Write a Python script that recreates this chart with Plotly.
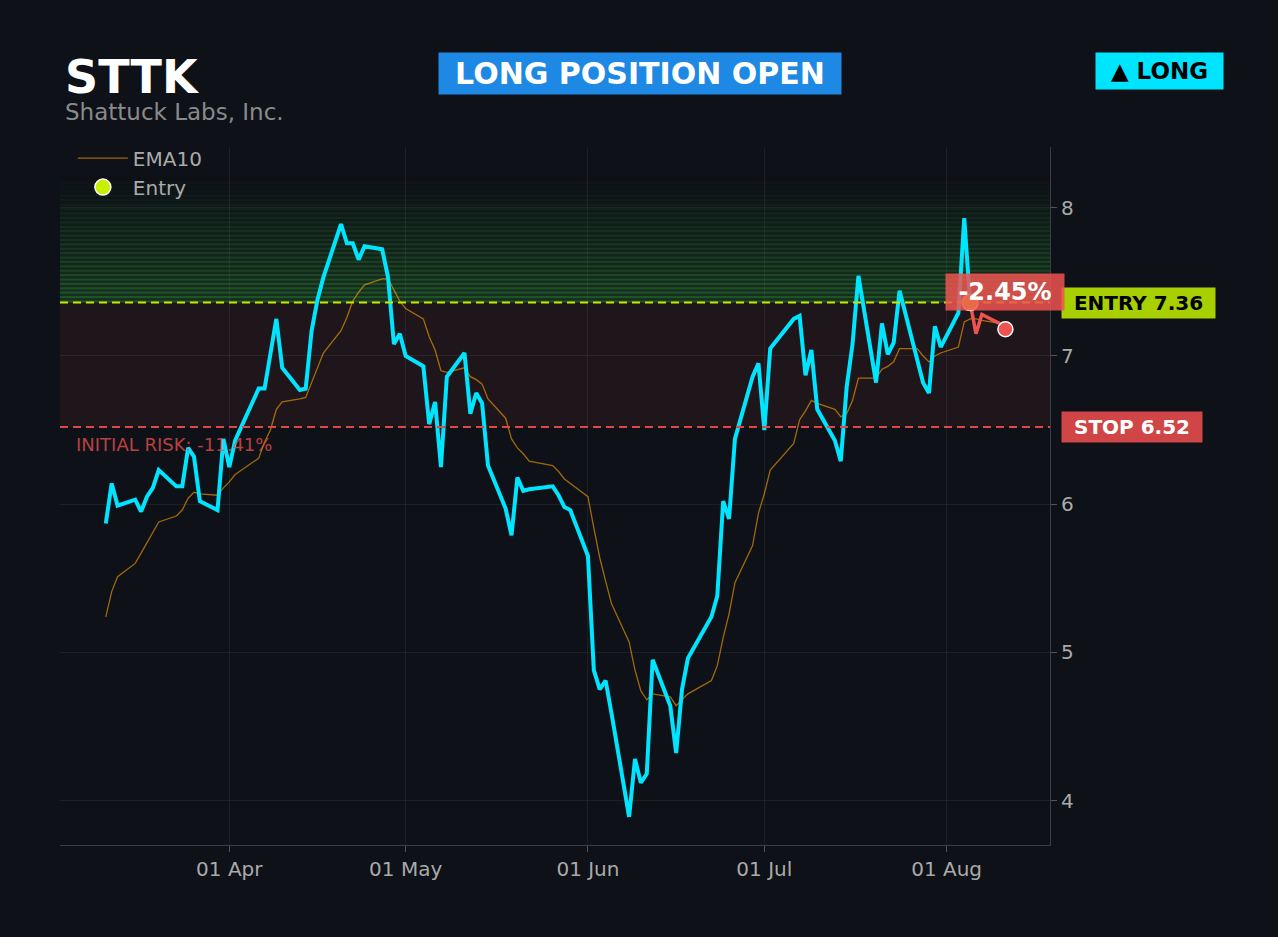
import pandas as pd
import plotly.graph_objects as go

# trade setup
ticker = "STTK"
company = "Shattuck Labs, Inc."
entry_date = "2026-08-05"
entry_price = 7.36
stop_price = 6.52

# trading days shown (US market holidays removed)
holidays = ["2026-04-03", "2026-05-25", "2026-06-19", "2026-07-03"]
dates = pd.bdate_range("2026-03-11", "2026-08-11")
dates = dates[~dates.isin(pd.to_datetime(holidays))]

# daily closes
close = [
    5.87, 6.14, 5.99, 6.03, 5.95, 6.05, 6.11, 6.23, 6.12, 6.12, 6.38, 6.32, 6.02, 5.96, 6.44,
    6.25, 6.43, 6.78, 6.78, 7.03, 7.25, 6.92, 6.77, 6.78, 7.17, 7.38, 7.53, 7.89, 7.76, 7.76,
    7.65, 7.74, 7.72, 7.53, 7.08, 7.15,
    7.00, 6.93, 6.54, 6.69, 6.25, 6.86, 7.02, 6.61, 6.75, 6.68, 6.26, 5.97, 5.79, 6.18, 6.09,
    6.10, 6.12, 6.06, 5.98, 5.96,
    5.65, 4.88, 4.75, 4.81, 4.59, 3.89, 4.28, 4.12, 4.18, 4.95, 4.64, 4.32, 4.75, 4.96, 5.24,
    5.38, 6.02, 5.90, 6.44, 6.86, 6.95,
    6.50, 7.05, 7.25, 7.27, 6.87, 7.04, 6.64, 6.43, 6.29, 6.79, 7.08, 7.54, 6.82, 7.22, 7.01,
    7.09, 7.44, 6.98, 6.82, 6.75, 7.20, 7.06,
    7.29, 7.93, 7.36, 7.15, 7.28, 7.22, 7.18,
]

# EMA10 as drawn
ema10 = [
    5.24, 5.41, 5.51, 5.60, 5.67, 5.74, 5.81, 5.88, 5.92, 5.96, 6.04, 6.08, 6.07, 6.06, 6.11,
    6.15, 6.20, 6.31, 6.42, 6.50, 6.64, 6.69, 6.71, 6.72, 6.82, 6.92, 7.02, 7.17, 7.26, 7.37,
    7.43, 7.48, 7.52, 7.52, 7.44, 7.37,
    7.32, 7.25, 7.13, 7.04, 6.90, 6.89, 6.92, 6.86, 6.84, 6.81, 6.71, 6.58, 6.44, 6.38, 6.34,
    6.29, 6.26, 6.22, 6.17, 6.14,
    6.05, 5.84, 5.64, 5.48, 5.33, 5.07, 4.88, 4.74, 4.68, 4.72, 4.70, 4.64, 4.68, 4.72, 4.81,
    4.91, 5.10, 5.26, 5.47, 5.72, 5.94,
    6.07, 6.23, 6.41, 6.57, 6.63, 6.70, 6.68, 6.64, 6.59, 6.61, 6.70, 6.85, 6.85, 6.91, 6.93,
    6.96, 7.05, 7.05, 7.00, 6.96, 7.00, 7.02,
    7.06, 7.23, 7.25, 7.25, 7.24, 7.22, 7.21,
]

df = pd.DataFrame({"date": dates, "close": close, "ema10": ema10})
i_entry = df.index[df["date"] == pd.Timestamp(entry_date)][0]
before = df.iloc[: i_entry + 1]
after = df.iloc[i_entry:]
last = df.iloc[-1]

pnl = (last["close"] - entry_price) / entry_price * 100
risk = (stop_price - entry_price) / entry_price * 100

BG = "#0e1117"
FONT = "DejaVu Sans"

fig = go.Figure()

fig.add_trace(go.Scatter(
    x=df["date"], y=df["ema10"], mode="lines", name="EMA10",
    line=dict(color="rgba(255,165,0,0.6)", width=1.3),
))
fig.add_trace(go.Scatter(
    x=before["date"], y=before["close"], mode="lines", name="Price",
    line=dict(color="#00e5ff", width=4), showlegend=False,
))
fig.add_trace(go.Scatter(
    x=after["date"], y=after["close"], mode="lines", name="Since entry",
    line=dict(color="#ef5350", width=3.5), showlegend=False,
))
fig.add_trace(go.Scatter(
    x=[entry_date], y=[entry_price], mode="markers", name="Entry",
    marker=dict(color="#c6f000", size=16, line=dict(color="white", width=1.5)),
))
fig.add_trace(go.Scatter(
    x=[last["date"]], y=[last["close"]], mode="markers", name="Last",
    marker=dict(color="#ef5350", size=15, line=dict(color="white", width=1.5)),
    showlegend=False,
))

# green "profit" glow above the entry, striped
shapes = []
n_bands = 29
top = 8.22
step = (top - entry_price) / n_bands
for k in range(n_bands):
    y0 = entry_price + k * step
    a = 0.35 * (1 - k / n_bands) ** 1.1
    shapes.append(dict(type="rect", xref="paper", x0=0, x1=1, y0=y0, y1=y0 + step,
                       fillcolor=f"rgba(70,230,80,{a * 0.4:.3f})", line=dict(width=0), layer="below"))
    shapes.append(dict(type="rect", xref="paper", x0=0, x1=1, y0=y0, y1=y0 + step * 0.5,
                       fillcolor=f"rgba(70,230,80,{a * 0.6:.3f})", line=dict(width=0), layer="below"))
# risk zone
shapes.append(dict(type="rect", xref="paper", x0=0, x1=1, y0=stop_price, y1=entry_price,
                   fillcolor="rgba(239,83,80,0.08)", line=dict(width=0), layer="below"))
shapes.append(dict(type="line", xref="paper", x0=0, x1=1, y0=entry_price, y1=entry_price,
                   line=dict(color="#c8e600", width=2, dash="8px,5px")))
shapes.append(dict(type="line", xref="paper", x0=0, x1=1, y0=stop_price, y1=stop_price,
                   line=dict(color="#e04848", width=2, dash="8px,5px")))

annotations = [
    dict(xref="paper", yref="paper", x=0.003, y=1.101, text=f"<b>{ticker}</b>",
         showarrow=False, xanchor="left", yanchor="middle",
         font=dict(size=46, color="white", family=FONT)),
    dict(xref="paper", yref="paper", x=0.003, y=1.050, text=company,
         showarrow=False, xanchor="left", yanchor="middle",
         font=dict(size=23, color="#8a8a8a", family=FONT)),
    dict(xref="paper", yref="paper", x=0.586, y=1.106, text="<b>LONG POSITION OPEN</b>",
         showarrow=False, xanchor="center", yanchor="middle", bgcolor="#1e88e5",
         width=394, height=33, borderpad=4,
         font=dict(size=30, color="white", family=FONT)),
    dict(xref="paper", yref="paper", x=1.111, y=1.109, text="<b>▲ LONG</b>",
         showarrow=False, xanchor="center", yanchor="middle", bgcolor="#00e5ff",
         width=121, height=30, borderpad=3,
         font=dict(size=23, color="black", family=FONT)),
    dict(xref="paper", yref="y", x=1.0, y=entry_price, xshift=11, text=f"<b>ENTRY {entry_price:.2f}</b>",
         showarrow=False, xanchor="left", yanchor="middle", bgcolor="#a8cf00",
         width=147, height=24, borderpad=3,
         font=dict(size=20, color="black", family=FONT)),
    dict(xref="paper", yref="y", x=1.0, y=stop_price, xshift=11, text=f"<b>STOP {stop_price:.2f}</b>",
         showarrow=False, xanchor="left", yanchor="middle", bgcolor="#d04545",
         width=134, height=24, borderpad=3,
         font=dict(size=20, color="white", family=FONT)),
    dict(xref="paper", yref="y", x=0.014, y=stop_price, yshift=-17,
         text=f"INITIAL RISK: {risk:.2f}%", showarrow=False, xanchor="left", yanchor="middle",
         font=dict(size=18, color="rgba(239,83,80,0.75)", family=FONT)),
    dict(x=last["date"], y=last["close"], yshift=37, text=f"<b>{pnl:+.2f}%</b>",
         showarrow=False, xanchor="center", yanchor="middle",
         bgcolor="rgba(239,83,80,0.85)", width=112, height=30, borderpad=3,
         font=dict(size=24, color="white", family=FONT)),
]

fig.update_layout(
    width=1278, height=937,
    paper_bgcolor=BG, plot_bgcolor=BG,
    margin=dict(l=60, r=228, t=147, b=92),
    font=dict(family=FONT, color="#aaaaaa", size=20),
    shapes=shapes,
    annotations=annotations,
    showlegend=True,
    legend=dict(x=0.013, y=1.012, xanchor="left", yanchor="top", itemwidth=50,
                bgcolor="rgba(0,0,0,0)", font=dict(size=20, color="#aaaaaa")),
    hovermode=False,
)
fig.update_xaxes(
    type="date", range=["2026-03-03 05:00", "2026-08-18 14:00"],
    tickformat="%d %b", dtick="M1", tick0="2026-01-01",
    showgrid=True, gridcolor="rgba(128,128,128,0.13)",
    showline=True, linecolor="#3a3d42", ticks="outside", tickcolor="#555", ticklen=6,
    zeroline=False,
)
fig.update_yaxes(
    side="right", range=[3.70, 8.41], dtick=1,
    showgrid=True, gridcolor="rgba(128,128,128,0.13)",
    showline=True, linecolor="#3a3d42", ticks="outside", tickcolor="#555", ticklen=6,
    zeroline=False,
)

fig.write_html("out.html", config={"displayModeBar": False},
               post_script="document.body.style.margin='0';document.body.style.background='#0e1117';")
